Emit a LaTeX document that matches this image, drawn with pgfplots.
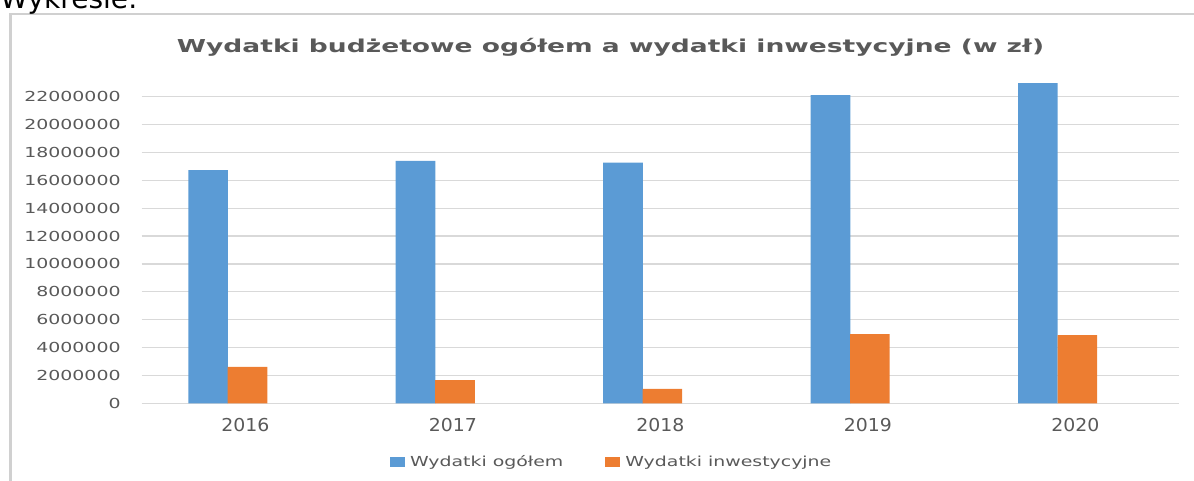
\documentclass[border=0pt]{standalone}
\usepackage{fontspec}
\setmainfont{DejaVu Sans}
\newfontfamily\wideA{DejaVu Sans}[FakeStretch=1.37]
\newfontfamily\wideT{DejaVu Sans}[FakeStretch=1.49]
\newfontfamily\wideX{DejaVu Sans}[FakeStretch=1.06]
\usepackage{pgfplots}
\pgfplotsset{compat=1.18}
\definecolor{blueser}{HTML}{5B9BD5}
\definecolor{orangeser}{HTML}{ED7D31}
\definecolor{txt}{HTML}{595959}
\definecolor{gridc}{HTML}{D9D9D9}

\begin{document}
\begin{tikzpicture}[x=0.5pt,y=0.5pt]
\useasboundingbox (0,0) rectangle (1194,481);
\clip (0,0) rectangle (1194,481);
% chart frame (only top and left visible)
\draw[overlay, gridc!90!gray, line width=1.25pt] (10.5,-5) -- (10.5,467) -- (1200,467);
% cut text of the page above
\node[overlay, anchor=base west, inner sep=0pt, font=\fontsize{14}{16}\selectfont] at (0,472) {Wykresie:};
% title
\node[anchor=base, inner sep=0pt, text=txt, font=\wideT\bfseries\fontsize{8.9}{10}\selectfont] at (610.5,428)
  {Wydatki budżetowe ogółem a wydatki inwestycyjne (w zł)};

\begin{axis}[
  at={(70.85pt,38.85pt)}, anchor=south west,
  width=518.65pt, height=153.3pt, scale only axis,
  xmin=-0.5, xmax=4.5, ymin=0, ymax=22000000,
  clip=false,
  axis line style={draw=none},
  major tick length=0pt, tick style={draw=none},
  ymajorgrids, grid style={gridc, line width=0.6pt},
  ytick={0,2000000,...,22000000},
  scaled y ticks=false,
  /pgf/number format/assume math mode=true,
  yticklabel={\pgfmathprintnumber[fixed,precision=0,1000 sep={}]{\tick}},
  yticklabel style={anchor=east, inner sep=0pt, xshift=-10.35pt, text=txt,
    font=\wideA\fontsize{6.9}{8}\selectfont},
  xtick={0,1,2,3,4},
  xticklabels={2016,2017,2018,2019,2020},
  xticklabel style={anchor=north, inner sep=0pt, yshift=-7.35pt, text=txt,
    font=\wideX\fontsize{8.9}{10}\selectfont},
  ybar, bar width=0.191,
  legend columns=2,
  legend style={draw=none, fill=none, inner sep=0pt, outer sep=0pt,
    at={(0.2394,-0.193)}, anchor=west,
    font=\wideA\fontsize{6.9}{8}\selectfont, text=txt,
    nodes={inner sep=0pt},
    /tikz/every odd column/.append style={column sep=2.5pt},
    /tikz/every even column/.append style={column sep=21pt}},
]
\addplot[fill=blueser, draw=none, bar shift=-0.18,
  legend image code/.code={\fill[blueser] (0pt,-2.5pt) rectangle (7.5pt,2.5pt);}]
  coordinates {(0,16740000) (1,17390000) (2,17270000) (3,22120000) (4,22980000)};
\addlegendentry{Wydatki ogółem}
\addplot[fill=orangeser, draw=none, bar shift=0.01,
  legend image code/.code={\fill[orangeser] (0pt,-2.5pt) rectangle (7.5pt,2.5pt);}]
  coordinates {(0,2610000) (1,1670000) (2,1030000) (3,4970000) (4,4900000)};
\addlegendentry{Wydatki inwestycyjne}
\end{axis}
\end{tikzpicture}
\end{document}
